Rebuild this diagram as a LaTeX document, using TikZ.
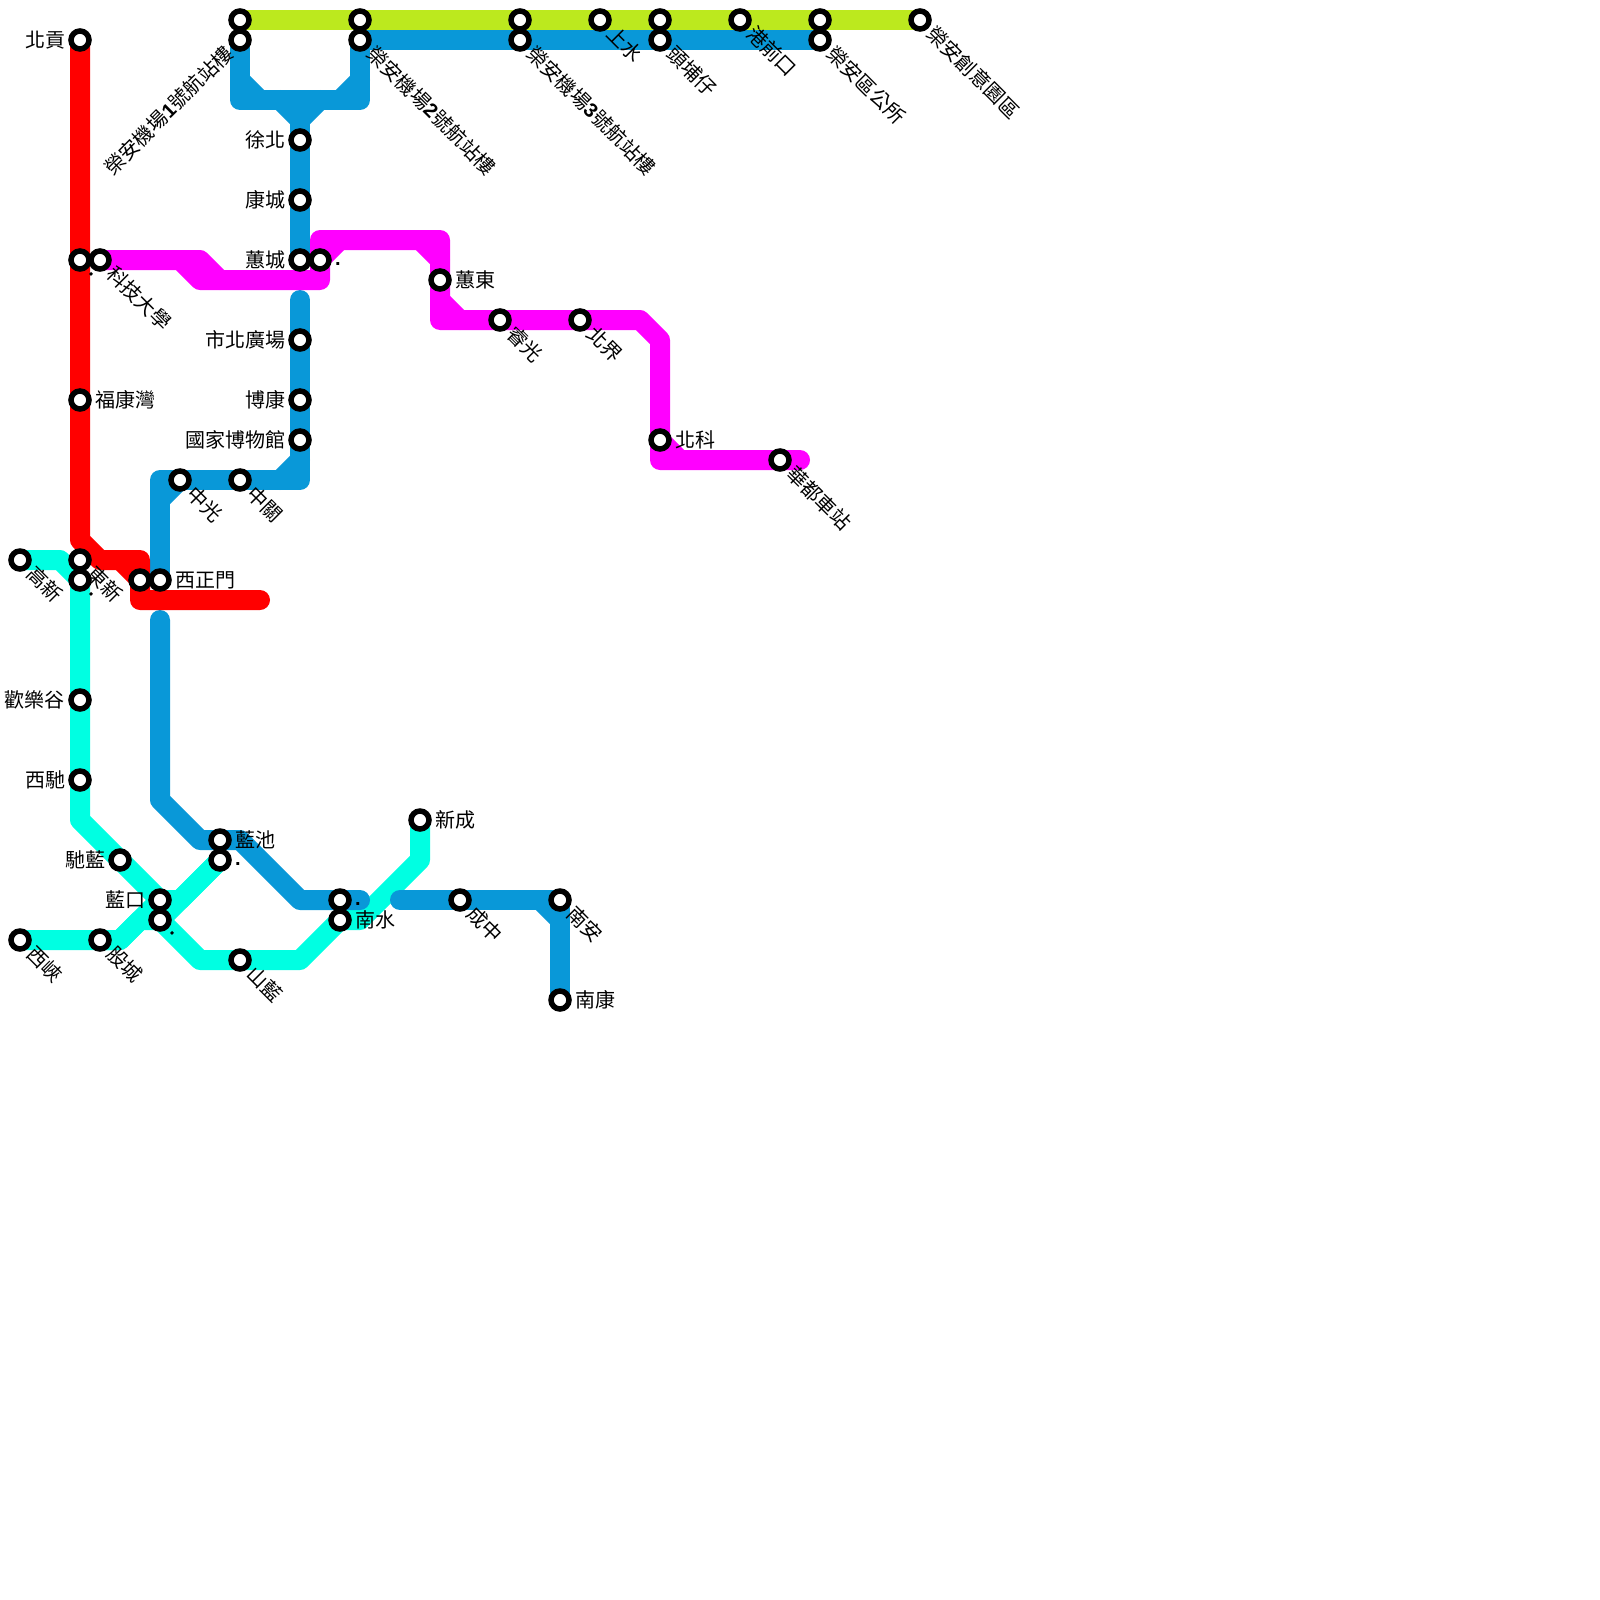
\documentclass[tikz,border=0pt]{standalone}
\usepackage{fontspec}
\setmainfont{Liberation Sans}
\newfontfamily\cjkfont{Noto Sans CJK TC}
\usepackage{xcolor}
\definecolor{LineLime}{RGB}{188,233,30}
\definecolor{LineBlue}{RGB}{9,152,216}
\definecolor{LineMagenta}{RGB}{255,0,255}
\definecolor{LineRed}{RGB}{255,0,0}
\definecolor{LineCyan}{RGB}{0,255,226}
\usetikzlibrary{positioning, calc, backgrounds}
\newcommand{\latin}[1]{{\rmfamily\bfseries #1}}
\tikzset{
  % Station ring
  stn/.style={
    circle, draw=black, fill=white, line width=5.5pt,
    minimum size=18pt, inner sep=0pt, outer sep=3pt
  },
  % Station labels
  lab/.style={font=\fontsize{20}{24}\selectfont\cjkfont, inner sep=0pt, outer sep=0pt, text=black},
  lab dr/.style={lab, rotate=-45, anchor=west},
  lab ur/.style={lab, rotate=45, anchor=east},
  % Stray dot labels
  dotlab/.style={font=\fontsize{20}{24}\selectfont\bfseries, inner sep=0pt, outer sep=0pt, anchor=base west},
  dotlab dr/.style={dotlab, rotate=-45},
  % Lines
  metro/.style={line width=20pt, line join=round, line cap=round},
  metro lime/.style={metro, LineLime},
  metro blue/.style={metro, LineBlue},
  metro magenta/.style={metro, LineMagenta},
  metro red/.style={metro, LineRed},
  metro cyan/.style={metro, LineCyan},
}
\begin{document}
\begin{tikzpicture}[x=1pt, y=-1pt, node distance=3pt]
  \useasboundingbox (0,0) rectangle (1600,1600);

  %% Top row
  \node[stn] (t1up) at (240,20) {};
  \node[stn] (t1) at (240,40) {};
  \node[stn] (t2up) at (360,20) {};
  \node[stn] (t2) at (360,40) {};
  \node[stn] (t3up) at (520,20) {};
  \node[stn] (t3) at (520,40) {};
  \node[stn] (shangshui) at (600,20) {};
  \node[stn] (toubuup) at (660,20) {};
  \node[stn] (toubu) at (660,40) {};
  \node[stn] (gangqian) at (740,20) {};
  \node[stn] (quofficeup) at (820,20) {};
  \node[stn] (quoffice) at (820,40) {};
  \node[stn] (chuangyi) at (920,20) {};

  %% Blue stations
  \node[stn] (xubei) at (300,140) {};
  \node[stn] (kangcheng) at (300,200) {};
  \node[stn] (huicheng) at (300,260) {};
  \node[stn] (shibei) at (300,340) {};
  \node[stn] (bokang) at (300,400) {};
  \node[stn] (guobo) at (300,440) {};
  \node[stn] (zhongguan) at (240,480) {};
  \node[stn] (zhongguang) at (180,480) {};
  \node[stn] (ximen) at (160,580) {};
  \node[stn] (lanchi) at (220,840) {};
  \node[stn] (nanshuiup) at (340,900) {};
  \node[stn] (chengzhong) at (460,900) {};
  \node[stn] (nanan) at (560,900) {};
  \node[stn] (nankang) at (560,1000) {};

  %% Magenta stations
  \node[stn] (keji) at (100,260) {};
  \node[stn] (huichengb) at (320,260) {};
  \node[stn] (huidong) at (440,280) {};
  \node[stn] (ruiguang) at (500,320) {};
  \node[stn] (beijie) at (580,320) {};
  \node[stn] (beike) at (660,440) {};
  \node[stn] (huadu) at (780,460) {};

  %% Red stations
  \node[stn] (beigong) at (80,40) {};
  \node[stn] (kejir) at (80,260) {};
  \node[stn] (fukang) at (80,400) {};
  \node[stn] (dongxin) at (80,560) {};
  \node[stn] (ximenr) at (140,580) {};

  %% Cyan stations
  \node[stn] (gaoxin) at (20,560) {};
  \node[stn] (dongxinc) at (80,580) {};
  \node[stn] (huanle) at (80,700) {};
  \node[stn] (xichi) at (80,780) {};
  \node[stn] (chilan) at (120,860) {};
  \node[stn] (lankou) at (160,900) {};
  \node[stn] (lankoub) at (160,920) {};
  \node[stn] (lanchib) at (220,860) {};
  \node[stn] (xixia) at (20,940) {};
  \node[stn] (gucheng) at (100,940) {};
  \node[stn] (shanlan) at (240,960) {};
  \node[stn] (nanshui) at (340,920) {};
  \node[stn] (xincheng) at (420,820) {};

  %% Free line ends
  \coordinate (blueB) at (300,300);
  \coordinate (blueC) at (160,620);
  \coordinate (blueD) at (360,900);
  \coordinate (blueE) at (400,900);
  \coordinate (magEnd) at (800,460);
  \coordinate (redEnd) at (260,600);

  %% Lines
  \begin{pgfonlayer}{background}
    \draw[metro cyan] (gaoxin.center) -- (60,560) -- (dongxinc.center) -- (80,820) -- (lankou.center) -- (lankoub.center)
      -- (200,960) -- (300,960) -- (nanshui.center) -- (360,920) -- (420,860) -- (xincheng.center);
    \draw[metro cyan] (xixia.center) -- (120,940) -- (lankou.center) -- (180,900) -- (lanchib.center);
    \draw[metro cyan] (gucheng.center) -- (120,940) -- (140,920) -- (lankoub.center) -- (lanchib.center);

    \draw[metro lime] (t1up.center) -- (chuangyi.center);

    \draw[metro blue] (t2.center) -- (quoffice.center);
    \draw[metro blue] (t1.center) -- (240,100) -- (360,100) -- (t2.center);
    \draw[metro blue] (240,80) -- (260,100);
    \draw[metro blue] (360,80) -- (340,100);
    \draw[metro blue] (280,100) -- (300,120) -- (320,100);
    \draw[metro blue] (300,120) -- (huicheng.center);
    \draw[metro blue] (blueB) -- (300,480) -- (160,480) -- (ximen.center);
    \draw[metro blue] (300,460) -- (280,480);
    \draw[metro blue] (160,500) -- (zhongguang.center);
    \draw[metro blue] (blueC) -- (160,800) -- (200,840) -- (240,840) -- (300,900) -- (blueD);
    \draw[metro blue] (blueE) -- (560,900) -- (nankang.center);
    \draw[metro blue] (540,900) -- (560,920);

    \draw[metro magenta] (keji.center) -- (180,260) -- (200,280) -- (320,280) -- (320,240)
      -- (440,240) -- (440,320) -- (640,320) -- (660,340) -- (660,460) -- (magEnd);
    \draw[metro magenta] (180,260) -- (200,260) -- (220,280);
    \draw[metro magenta] (huichengb.center) -- (340,240);
    \draw[metro magenta] (420,240) -- (440,260);
    \draw[metro magenta] (440,300) -- (460,320);
    \draw[metro magenta] (beike.center) -- (680,460);

    \draw[metro red] (beigong.center) -- (80,540) -- (100,560) -- (140,560) -- (140,600) -- (redEnd);
    \draw[metro red] (120,560) -- (ximenr.center);
  \end{pgfonlayer}

  %% Left labels
  \node[lab, left=of beigong] (beigong l) {北貢};
  \node[lab, left=of xubei] (xubei l) {徐北};
  \node[lab, left=of kangcheng] (kangcheng l) {康城};
  \node[lab, left=of huicheng] (huicheng l) {蕙城};
  \node[lab, left=of shibei] (shibei l) {市北廣場};
  \node[lab, left=of bokang] (bokang l) {博康};
  \node[lab, left=of guobo] (guobo l) {國家博物館};
  \node[lab, left=of huanle] (huanle l) {歡樂谷};
  \node[lab, left=of xichi] (xichi l) {西馳};
  \node[lab, left=of chilan] (chilan l) {馳藍};
  \node[lab, left=of lankou] (lankou l) {藍口};

  %% Right labels
  \node[lab, right=of fukang] (fukang l) {福康灣};
  \node[lab, right=of huidong] (huidong l) {蕙東};
  \node[lab, right=of beike] (beike l) {北科};
  \node[lab, right=of ximen] (ximen l) {西正門};
  \node[lab, right=of lanchi] (lanchi l) {藍池};
  \node[lab, right=of nanshui] (nanshui l) {南水};
  \node[lab, right=of xincheng] (xincheng l) {新成};
  \node[lab, right=of nankang] (nankang l) {南康};

  %% Slanted labels
  \node[lab ur] (t1 l) at ($(t1)+(-11,10)$) {榮安機場\latin{1}號航站樓};
  \node[lab dr] (t2 l) at ($(t2)+(11,10)$) {榮安機場\latin{2}號航站樓};
  \node[lab dr] (t3 l) at ($(t3)+(11,10)$) {榮安機場\latin{3}號航站樓};
  \node[lab dr] (shangshui l) at ($(shangshui)+(11,10)$) {上水};
  \node[lab dr] (toubu l) at ($(toubu)+(11,10)$) {頭埔仔};
  \node[lab dr] (gangqian l) at ($(gangqian)+(11,10)$) {港前口};
  \node[lab dr] (quoffice l) at ($(quoffice)+(11,10)$) {榮安區公所};
  \node[lab dr] (chuangyi l) at ($(chuangyi)+(11,10)$) {榮安創意園區};
  \node[lab dr] (keji l) at ($(keji)+(11,10)$) {科技大學};
  \node[lab dr] (ruiguang l) at ($(ruiguang)+(11,10)$) {睿光};
  \node[lab dr] (beijie l) at ($(beijie)+(11,10)$) {北界};
  \node[lab dr] (huadu l) at ($(huadu)+(11,10)$) {華都車站};
  \node[lab dr] (zhongguang l) at ($(zhongguang)+(11,10)$) {中光};
  \node[lab dr] (zhongguan l) at ($(zhongguan)+(11,10)$) {中關};
  \node[lab dr] (gaoxin l) at ($(gaoxin)+(11,10)$) {高新};
  \node[lab dr] (dongxin l) at ($(dongxin)+(11,10)$) {東新};
  \node[lab dr] (xixia l) at ($(xixia)+(11,10)$) {西峽};
  \node[lab dr] (gucheng l) at ($(gucheng)+(11,10)$) {股城};
  \node[lab dr] (shanlan l) at ($(shanlan)+(11,10)$) {山藍};
  \node[lab dr] (chengzhong l) at ($(chengzhong)+(11,10)$) {成中};
  \node[lab dr] (nanan l) at ($(nanan)+(11,10)$) {南安};

  %% Dots
  \node[dotlab] (huichengb l) at ($(huichengb)+(15,5)$) {.};
  \node[dotlab] (lanchib l) at ($(lanchib)+(15,5)$) {.};
  \node[dotlab] (nanshuiup l) at ($(nanshuiup)+(15,5)$) {.};
  \node[dotlab dr] (kejir l) at ($(kejir)+(8,13)$) {.};
  \node[dotlab dr] (dongxinc l) at ($(dongxinc)+(8,13)$) {.};
  \node[dotlab dr] (lankoub l) at ($(lankoub)+(9,12)$) {.};
\end{tikzpicture}
\end{document}
